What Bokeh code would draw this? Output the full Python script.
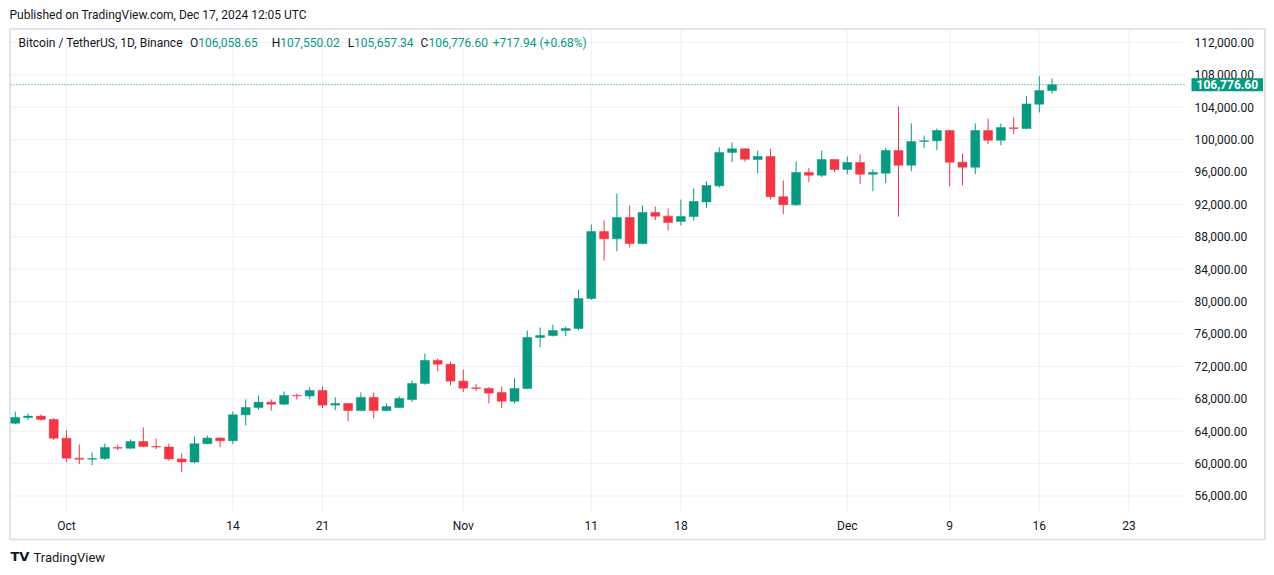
import pandas as pd
from bokeh.plotting import figure
from bokeh.models import (ColumnDataSource, FixedTicker, Label, NumeralTickFormatter, Range1d)
from bokeh.embed import file_html
from bokeh.resources import INLINE

# ---------------- data (BTC/USDT daily, Binance) ----------------
dates = pd.date_range("2024-09-27", "2024-12-17", freq="D").strftime("%Y-%m-%d").tolist()
opens = [64990, 65690, 65860, 65440, 63140, 60670, 60540, 60640, 62000, 61900,
         62730, 62100, 62050, 60580, 60200, 62450, 63150, 62820, 66020, 66920,
         67580, 67330, 68410, 68350, 69030, 67220, 67420, 66550, 68170, 66550,
         66920, 67910, 69890, 72740, 72270, 70180, 69360, 69270, 68780, 67700,
         69270, 75570, 75810, 76430, 76680, 80380, 88650, 87750, 90380, 87170,
         91000, 90550, 89900, 90500, 92310, 94290, 98410, 98860, 97530, 97910,
         92950, 91950, 95940, 95600, 97540, 96310, 97170, 95730, 95860, 98650,
         96840, 99770, 99860, 101120, 97210, 96590, 101120, 99930, 101450, 101370,
         104370, 106058.65]
highs = [66420, 66180, 66060, 65620, 64090, 62360, 61370, 62480, 62320, 62980,
         64460, 63100, 62480, 61250, 63350, 63470, 63220, 66420, 67910, 68410,
         67910, 68900, 68650, 69400, 69520, 68170, 67460, 68780, 68780, 67420,
         68290, 70260, 73590, 72980, 72620, 71620, 69850, 69430, 69520, 70510,
         76430, 76790, 77160, 76920, 81490, 89520, 90010, 93350, 91860, 91860,
         91740, 91490, 92600, 93960, 94870, 99030, 99640, 98890, 98650, 98860,
         94950, 97300, 96520, 98650, 97540, 97910, 98160, 96310, 98990, 104090,
         101990, 100500, 101370, 101210, 98280, 101990, 102570, 101990, 102730, 105360,
         107830, 107550.02]
lows = [64870, 65360, 65320, 62890, 60170, 59930, 59810, 60420, 61650, 61780,
        62030, 61780, 60340, 58940, 60050, 62400, 62030, 62390, 64740, 66670,
        66550, 67210, 67910, 67960, 66840, 66590, 65230, 66470, 65610, 66470,
        66920, 67580, 69730, 71410, 69680, 68820, 68970, 67450, 66840, 67450,
        69180, 74370, 75690, 75730, 76470, 80220, 85070, 86220, 86680, 87070,
        90050, 88780, 89400, 89990, 91530, 94090, 97210, 97260, 95850, 92600,
        90790, 91810, 94740, 95380, 96000, 95730, 94500, 93630, 94620, 90500,
        96100, 98940, 98690, 94250, 94370, 95730, 99430, 99310, 100670, 101290,
        103350, 105657.34]
closes = [65690, 65860, 65440, 63140, 60670, 60540, 60640, 62000, 61900, 62730,
          62100, 62050, 60580, 60200, 62450, 63150, 62820, 66020, 66920, 67580,
          67330, 68410, 68350, 69030, 67220, 67420, 66550, 68170, 66550, 67040,
          68040, 69890, 72740, 72270, 70180, 69310, 69270, 68700, 67700, 69270,
          75570, 75810, 76430, 76680, 80380, 88650, 87750, 90380, 87170, 91000,
          90550, 89770, 90500, 92350, 94330, 98410, 98860, 97580, 97910, 92950,
          91950, 95940, 95600, 97540, 96310, 97170, 95730, 95930, 98650, 96840,
          99770, 99860, 101120, 97210, 96590, 101120, 99930, 101490, 101380, 104400,
          106060, 106776.60]

tick_dates = ["2024-10-01", "2024-10-14", "2024-10-21", "2024-11-01", "2024-11-11",
              "2024-11-18", "2024-12-01", "2024-12-09", "2024-12-16", "2024-12-23"]
tick_labels = ["Oct", "14", "21", "Nov", "11", "18", "Dec", "9", "16", "23"]
price_ticks = list(range(56000, 112001, 4000))

header_text = "Published on TradingView.com, Dec 17, 2024 12:05 UTC"
symbol_text = "Bitcoin / TetherUS, 1D, Binance"
change_text = "+717.94 (+0.68%)"

# ---------------- layout helpers ----------------
UP, DOWN = "#089981", "#F23645"
FONT = "Roboto"
TXT = "#131722"
GRID = "#EEF0F4"
W, H = 1266, 567
DAY_PX, X_ORIGIN_PX = 12.8, 66.0          # Oct 1 at 66px, 12.8px per day
PRICE_PER_PX, Y_REF_PX = 123.46, 41.9     # 112,000 at 41.9px


def px_x(px):
    return (px - X_ORIGIN_PX) / DAY_PX


def px_y(py):
    return 112000 - (py - Y_REF_PX) * PRICE_PER_PX


base = pd.Timestamp("2024-10-01")
xs = [(pd.Timestamp(d) - base).days for d in dates]
tick_x = [(pd.Timestamp(d) - base).days for d in tick_dates]

src = ColumnDataSource(dict(
    x=xs, open=opens, high=highs, low=lows, close=closes,
    top=[max(o, c) for o, c in zip(opens, closes)],
    bottom=[min(o, c) for o, c in zip(opens, closes)],
    color=[UP if c >= o else DOWN for o, c in zip(opens, closes)],
))

p = figure(width=W, height=H, output_backend="svg", toolbar_location=None,
           x_range=Range1d(px_x(0), px_x(W)), y_range=Range1d(px_y(H), px_y(0)),
           y_axis_location="right",
           min_border_left=0, min_border_right=0, min_border_top=0, min_border_bottom=0)
p.outline_line_color = None
p.background_fill_color = "white"
p.border_fill_color = "white"
p.grid.visible = False

# axes (labels placed inside the frame, like TradingView's scales)
p.xaxis.ticker = FixedTicker(ticks=tick_x)
p.xaxis.major_label_overrides = {t: l for t, l in zip(tick_x, tick_labels)}
p.yaxis.ticker = FixedTicker(ticks=price_ticks)
p.yaxis.formatter = NumeralTickFormatter(format="0,0.00")
for ax in (p.xaxis[0], p.yaxis[0]):
    ax.axis_line_color = None
    ax.major_tick_line_color = None
    ax.minor_tick_line_color = None
    ax.major_tick_out = 0
    ax.major_tick_in = 0
    ax.major_label_text_font = FONT
    ax.major_label_text_font_size = "12px"
    ax.major_label_text_color = TXT
p.xaxis.major_label_standoff = -49
p.yaxis.major_label_standoff = -72

# grid lines, limited to the chart pane
x_left, x_right = px_x(10), px_x(1183)
y_top, y_bottom = px_y(29), px_y(511)
p.segment(x0=x_left, x1=x_right, y0=price_ticks, y1=price_ticks,
          line_color=GRID, line_width=1, level="underlay")
p.segment(x0=tick_x, x1=tick_x, y0=y_bottom, y1=y_top,
          line_color=GRID, line_width=1, level="underlay")

# pane border
p.quad(left=px_x(9.5), right=px_x(1264.5), top=px_y(28.5), bottom=px_y(539),
       fill_alpha=0, line_color="#E0E3EB", line_width=2)

# candles
p.segment(x0="x", y0="high", x1="x", y1="low", color="color", line_width=1, source=src)
p.vbar(x="x", width=0.7, top="top", bottom="bottom", fill_color="color",
       line_color="color", line_width=0.5, source=src)

# last price line and tag
p.segment(x0=x_left, x1=px_x(1186), y0=closes[-1], y1=closes[-1],
          line_color=UP, line_dash="1 2", line_width=1)
p.add_layout(Label(x=1191, y=closes[-1], x_units="screen", y_units="data",
                   text=f"{closes[-1]:,.2f}", text_font=FONT,
                   text_font_size="12px", text_font_style="bold", text_color="white",
                   text_baseline="middle", text_align="left",
                   background_fill_color=UP, padding=(5, 2)))


# texts (screen units relative to frame: x = page_x, y = H - page_y)
def lab(px, py, text, color=TXT, size="12px", font=FONT, style="normal", align="left"):
    p.add_layout(Label(x=px, y=H - py, x_units="screen", y_units="screen",
                       text=text, text_font=font, text_font_size=size,
                       text_font_style=style, text_color=color,
                       text_baseline="middle", text_align=align))


lab(9, 14, header_text)
lab(18, 42, symbol_text)
value_starts = [197.7, 279.8, 353.6, 427.9]
ohlc_vals = [opens[-1], highs[-1], lows[-1], closes[-1]]
for letter, vstart, v in zip("OHLC", value_starts, ohlc_vals):
    lab(vstart, 42, f"{v:,.2f}", color=UP, align="left")
    lab(vstart, 42, letter, align="right")
lab(492.3, 42, change_text, color=UP)
lab(10, 556, "TV", size="13px", font="DejaVu Sans", style="bold")
lab(33, 557, "TradingView", size="13px")

open("out.html", "w").write(file_html(p, INLINE))
